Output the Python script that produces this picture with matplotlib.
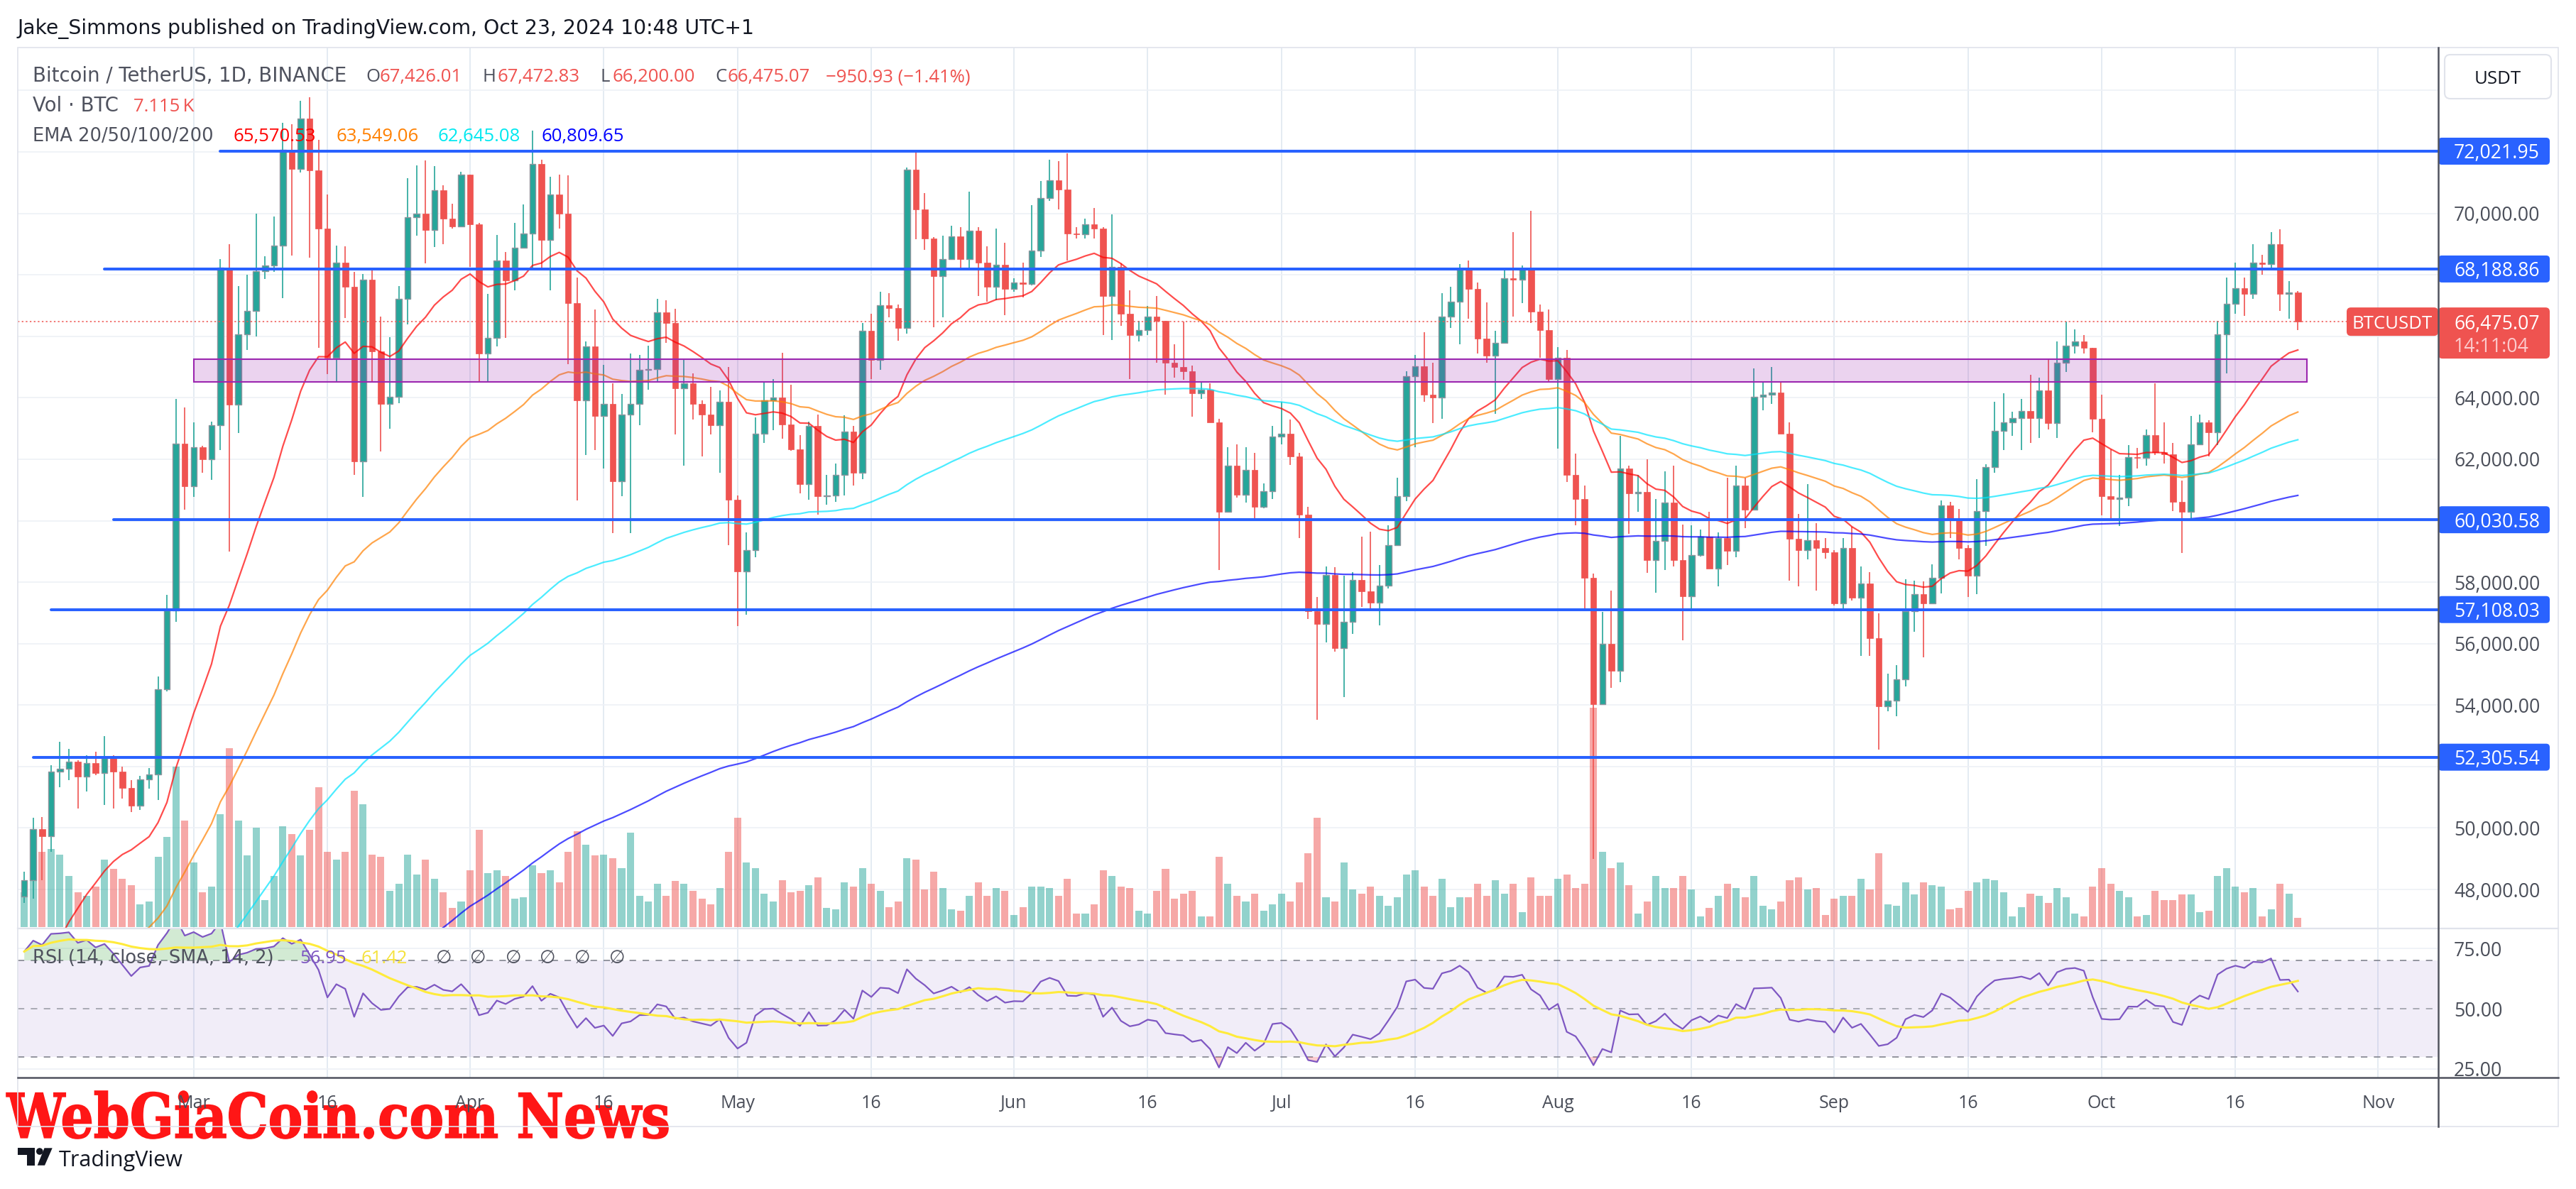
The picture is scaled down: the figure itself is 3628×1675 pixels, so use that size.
import numpy as np
import pandas as pd
import matplotlib
matplotlib.use("Agg")
import matplotlib.pyplot as plt
import matplotlib.transforms as mtransforms
from matplotlib.patches import Rectangle, FancyBboxPatch, PathPatch, Polygon, Ellipse
from matplotlib.textpath import TextPath
from matplotlib.font_manager import FontProperties
from matplotlib.path import Path

plt.rcParams['font.family'] = ['Open Sans', 'DejaVu Sans']

# =====================================================
# Data: BTC/USDT daily candles, Feb 11 - Oct 23 2024
# =====================================================

first_open = 47768

close = [
    # Feb 11-29
    48293, 49958, 49743, 51826, 51938, 52160, 51663, 52122, 51779, 52284,
    51839, 51304, 50731, 51571, 51733, 54522, 57085, 62504, 61130,
    # Mar
    62387, 61987, 63113, 68245, 63776, 66074, 66823, 68124, 68313, 68955,
    72078, 71452, 73072, 71388, 69499, 65300, 68393, 67609, 61937, 67840,
    65501, 63796, 64037, 67211, 69880, 69988, 69455, 70744, 69826, 69565, 71251,
    # Apr
    69652, 65447, 65951, 68470, 67810, 68870, 69340, 71600, 69130, 70610,
    70000, 67080, 63920, 65660, 63400, 63800, 61275, 63450, 63800, 64910,
    64930, 66790, 66440, 64300, 64470, 63800, 63450, 63100, 63880, 60670,
    # May
    58355, 59050, 62840, 63920, 64000, 63140, 62320, 61190, 63080, 60790,
    60820, 61480, 62910, 61570, 66180, 65220, 67000, 66910, 66270, 71430,
    70120, 69170, 67950, 68520, 69250, 68500, 69430, 68400, 67600, 68330, 67530,
    # Jun
    67740, 67710, 68790, 70490, 71080, 70780, 69340, 69310, 69650, 69510,
    67300, 68260, 66730, 66040, 66210, 66650, 66490, 65140, 64990, 64870,
    64140, 64260, 63190, 60300, 61800, 60840, 61660, 60440, 60960, 62740,
    # Jul
    62840, 62090, 60190, 57050, 56650, 58230, 55850, 56720, 58070, 57710,
    57330, 57890, 59210, 60800, 64700, 65030, 64090, 64000, 66650, 67120,
    68160, 67530, 65920, 65360, 65780, 67880, 67840, 68180, 66800, 66190, 64610,
    # Aug
    65300, 61480, 60700, 58150, 54030, 55990, 55120, 61700, 60880, 60930,
    58710, 59350, 60600, 58720, 57540, 58890, 59490, 58450, 59440, 59020,
    61140, 60360, 64040, 64100, 64180, 62830, 59400, 59050, 59360, 59100, 58970,
    # Sep
    57310, 59110, 57490, 57960, 56180, 53960, 54150, 54840, 57050, 57620,
    57310, 58130, 60490, 60010, 59110, 58220, 60310, 61750, 62930, 63190,
    63330, 63570, 63340, 64230, 63170, 65130, 65700, 65830, 65620, 63310,
    # Oct 1-23
    60790, 60700, 60740, 62060, 62050, 62790, 62220, 62160, 60620, 60300,
    62490, 63190, 62870, 66070, 67050, 67570, 67390, 68400, 68360, 68990,
    67380, 67426.01, 66475.07,
]

high = [
    # Feb
    48585, 50334, 50368, 52043, 52816, 52572, 52194, 52357, 52485, 52985,
    52370, 52000, 51550, 51700, 51958, 54938, 57588, 63969, 63676,
    # Mar
    63200, 62433, 63230, 68500, 69000, 67637, 67992, 69990, 68595, 69900,
    72950, 72900, 73650, 73777, 72400, 70620, 68950, 68920, 68100, 68030,
    68240, 66650, 65970, 67622, 71150, 71561, 71730, 71546, 70904, 70312, 71356,
    # Apr
    71251, 69687, 67376, 69300, 68750, 69690, 70300, 72700, 71750, 71180,
    71250, 71230, 67900, 65830, 66870, 65080, 64480, 64125, 65450, 65400,
    65700, 67220, 67170, 66900, 65280, 64790, 63920, 64350, 64230, 65000,
    # May
    60830, 59620, 63360, 64520, 64610, 65460, 64420, 62780, 63220, 63450,
    61480, 61860, 63430, 63080, 66440, 66730, 67450, 67400, 67030, 71480,
    72000, 70660, 69220, 69270, 69600, 69560, 70700, 69560, 68920, 69500, 69040,
    # Jun
    67880, 68400, 70260, 71040, 71740, 71700, 71960, 69550, 69830, 70170,
    69560, 69960, 68380, 67500, 66490, 66990, 67300, 66490, 65740, 66480,
    65040, 64520, 64470, 63310, 62400, 62480, 62390, 62200, 61220, 63080,
    # Jul
    63880, 63290, 62200, 60460, 57520, 58500, 58480, 58220, 58330, 59470,
    59650, 58550, 59850, 61400, 64870, 65390, 66130, 65130, 67400, 67600,
    68350, 68460, 67750, 67110, 66180, 68180, 69390, 68300, 70080, 67030, 66870,
    # Aug
    65650, 65560, 62180, 61140, 58290, 57040, 57730, 62750, 61780, 61480,
    62000, 60700, 61600, 61800, 59870, 59850, 59700, 60280, 59610, 61400,
    61800, 61400, 64960, 64500, 64990, 64500, 63200, 60230, 61200, 59920, 59430,
    # Sep
    59050, 59430, 59810, 58500, 58330, 56990, 55030, 55310, 58090, 58050,
    58020, 58580, 60650, 60610, 60390, 59210, 61350, 61830, 63870, 64140,
    63540, 63970, 64750, 64660, 65230, 65830, 66470, 66230, 66050, 65620,
    # Oct
    64100, 62320, 61490, 62470, 62370, 62960, 64470, 63190, 62530, 61310,
    63400, 63450, 63270, 66490, 67910, 68400, 67910, 68990, 68660, 69390,
    69480, 67790, 67472.83,
]

low = [
    # Feb
    47557, 47710, 48300, 49225, 51321, 51566, 50625, 51200, 51715, 50760,
    50625, 50950, 50521, 50600, 51280, 50901, 54450, 56700, 60364,
    # Mar
    60777, 61565, 61320, 62300, 59005, 62848, 65548, 66000, 67860, 68100,
    67230, 68620, 71330, 68555, 65630, 64780, 64545, 66600, 61500, 60775,
    64529, 62260, 63000, 63821, 66385, 69280, 68381, 68900, 68992, 69513, 69565,
    # Apr
    68262, 64526, 64526, 65670, 65950, 67500, 68870, 68210, 68230, 67500,
    69510, 65100, 60660, 62140, 62300, 61700, 59600, 60790, 59600, 63100,
    64270, 64520, 65780, 62800, 61800, 63300, 62100, 62800, 61550, 59200,
    # May
    56580, 56950, 58820, 62520, 62950, 62670, 62270, 60900, 60670, 60200,
    60530, 60620, 60820, 61140, 61360, 64610, 64900, 66610, 65860, 66090,
    69160, 68820, 66300, 66620, 68490, 68140, 68230, 67300, 67130, 67180, 66690,
    # Jun
    67440, 67270, 67650, 68570, 70400, 70120, 68470, 69170, 69170, 69170,
    66050, 65870, 66330, 64600, 65830, 66040, 65130, 64100, 64660, 64580,
    63380, 63950, 63190, 58400, 60300, 60740, 60600, 60090, 60400, 60700,
    # Jul
    62490, 61820, 59430, 56790, 53520, 56040, 55740, 54260, 56320, 57200,
    57070, 56600, 57800, 59190, 60640, 62390, 63860, 63180, 63310, 66260,
    65730, 66570, 65450, 65140, 63480, 65780, 66630, 67070, 66440, 65300, 64530,
    # Aug
    62350, 61270, 59850, 57110, 49000, 54000, 54570, 54740, 59580, 60290,
    58310, 57650, 58400, 58500, 56100, 57130, 58840, 58450, 57870, 58560,
    58810, 59750, 60350, 63590, 63800, 62830, 58050, 57860, 58750, 57720, 58760,
    # Sep
    57230, 57140, 57400, 55600, 55600, 52550, 53790, 53640, 54600, 56390,
    55550, 57310, 57630, 59430, 58750, 57520, 57620, 59180, 61570, 62300,
    62760, 62300, 62540, 62700, 62970, 62700, 64840, 65430, 65430, 62880,
    # Oct
    60180, 59990, 59830, 60480, 61690, 61800, 62140, 61870, 60320, 58960,
    60060, 62490, 62090, 62460, 64790, 66730, 66660, 67220, 68000, 68160,
    66820, 66560, 66200.00,
]

# volume in thousands of BTC
volume = [
    # Feb
    26, 58, 56, 58, 54, 38, 26, 23, 30, 50, 43, 36, 31, 17, 19, 52, 67, 119, 79,
    # Mar
    48, 26, 30, 84, 133, 79, 53, 74, 20, 38, 75, 69, 53, 72, 104, 56, 50, 56, 101, 91,
    54, 52, 27, 32, 54, 39, 50, 36, 26, 14, 19,
    # Apr
    42, 72, 40, 42, 38, 21, 22, 46, 40, 42, 33, 56, 71, 61, 53, 54, 51, 44, 70, 23,
    19, 32, 23, 34, 32, 27, 21, 17, 29, 56,
    # May
    81, 48, 44, 25, 19, 35, 26, 27, 31, 37, 14, 13, 33, 30, 44, 32, 27, 15, 19, 51,
    50, 28, 41, 29, 13, 12, 23, 33, 23, 29, 27,
    # Jun
    9, 15, 30, 30, 29, 23, 36, 10, 10, 17, 42, 38, 30, 29, 12, 10, 27, 43, 21, 25,
    27, 8, 8, 52, 32, 23, 19, 25, 12, 17,
    # Jul
    25, 19, 33, 55, 81, 22, 19, 48, 28, 25, 30, 23, 16, 22, 39, 42, 30, 23, 36, 15,
    22, 22, 32, 23, 35, 25, 32, 11, 37, 23, 23,
    # Aug
    36, 39, 29, 32, 163, 56, 44, 48, 31, 10, 19, 38, 29, 29, 38, 28, 8, 14, 23, 32,
    29, 22, 38, 16, 13, 19, 35, 37, 28, 29, 9,
    # Sep
    21, 23, 23, 36, 28, 55, 17, 16, 33, 24, 33, 31, 30, 13, 14, 27, 33, 36, 35, 26,
    8, 15, 25, 23, 18, 29, 22, 10, 8, 30,
    # Oct
    44, 32, 27, 22, 8, 9, 27, 20, 20, 24, 24, 11, 12, 38, 44, 30, 26, 29, 8, 13,
    32, 25, 7.115,
]

# horizontal ray lines drawn on the chart
line_levels = [72021.95, 68188.86, 60030.58, 57108.03, 52305.54]
line_starts = ["2024-03-04", "2024-02-20", "2024-02-21", "2024-02-14", "2024-02-12"]

# purple zone
zone_low, zone_high = 64525, 65255
zone_start, zone_end = "2024-03-01", "2024-10-24"

# EMA values on Feb 10 (before the first visible candle)
ema_seeds = {20: 43700, 50: 43000, 100: 40600, 200: 37000}
# Wilder RSI averages on Feb 10
rsi_seed_gain, rsi_seed_loss = 450, 175

tick_dates = ["2024-03-01", "2024-03-16", "2024-04-01", "2024-04-16", "2024-05-01",
              "2024-05-16", "2024-06-01", "2024-06-16", "2024-07-01", "2024-07-16",
              "2024-08-01", "2024-08-16", "2024-09-01", "2024-09-16", "2024-10-01",
              "2024-10-16", "2024-11-01"]
tick_labels = ["Mar", "16", "Apr", "16", "May", "16", "Jun", "16", "Jul", "16",
               "Aug", "16", "Sep", "16", "Oct", "16", "Nov"]

assert len(close) == len(high) == len(low) == len(volume) == 256

# =====================================================
# Indicators
# =====================================================

start = pd.Timestamp("2024-02-11")
def day(s):
    return (pd.Timestamp(s) - start).days

c = np.array(close, dtype=float)
h = np.array(high, dtype=float)
l = np.array(low, dtype=float)
o = np.concatenate([[first_open], c[:-1]])
v = np.array(volume, dtype=float)
x = np.arange(len(c))
up = c >= o


def ema(values, seed, n):
    a = 2 / (n + 1)
    out = []
    e = seed
    for val in values:
        e = e + a * (val - e)
        out.append(e)
    return np.array(out)


def rsi_wilder(values, prev, g, ls, n=14):
    out = []
    for val in values:
        ch = val - prev
        g = (g * (n - 1) + max(ch, 0)) / n
        ls = (ls * (n - 1) + max(-ch, 0)) / n
        out.append(100 - 100 / (1 + g / ls))
        prev = val
    return np.array(out)


emas = {n: ema(c, s, n) for n, s in ema_seeds.items()}
rsi = rsi_wilder(c, first_open, rsi_seed_gain, rsi_seed_loss)
rsi_ma = pd.Series(rsi).rolling(14, min_periods=1).mean().values

# =====================================================
# Figure layout (pixel based)
# =====================================================

W, H = 3628, 1675
fig = plt.figure(figsize=(W / 100, H / 100), dpi=100)
fig.patch.set_facecolor("white")


def rect(lft, top, rgt, bot):
    return [lft / W, 1 - bot / H, (rgt - lft) / W, (bot - top) / H]


PL, PR = 24.5, 3433
ax_vol = fig.add_axes(rect(PL, 67, PR, 1308), zorder=1)
ax = fig.add_axes(rect(PL, 67, PR, 1308), zorder=2, sharex=ax_vol)
ax_rsi = fig.add_axes(rect(PL, 1308, PR, 1518), zorder=2, sharex=ax_vol)
ax_wm = fig.add_axes([0, 0, 1, 1], zorder=1.5)
ax_ov = fig.add_axes([0, 0, 1, 1], zorder=3)
for a in (ax_wm, ax_ov):
    a.set_xlim(0, W)
    a.set_ylim(H, 0)
    a.axis("off")
    a.patch.set_visible(False)
ax.patch.set_visible(False)

for a in (ax_vol, ax, ax_rsi):
    for s in a.spines.values():
        s.set_visible(False)

ax_vol.set_xlim(-0.772, 270.67)
ax.set_ylim(46732, 75393)
ax_vol.set_ylim(-1.05, 653)
ax_rsi.set_ylim(21.47, 83.24)

tick_pos = [day(d) for d in tick_dates]
grid_v = "#e2e9f1"
grid_h = "#eef1f6"
label_col = "#4a4e59"


def ypix(a, val):
    return H - a.transData.transform((0, val))[1]


# =====================================================
# Main pane
# =====================================================

ax_vol.tick_params(left=False, bottom=False, labelleft=False, labelbottom=False)
for t in tick_pos:
    ax_vol.axvline(t, color=grid_v, lw=1.3, zorder=0)
htrans = mtransforms.blended_transform_factory(ax_vol.transAxes, ax.transData)
price_ticks = list(range(48000, 76000, 2000))
for p in price_ticks:
    ax_vol.plot([0, 1], [p, p], transform=htrans, color=grid_h, lw=1.2, zorder=0)

ax_vol.bar(x, v, width=0.8, color=np.where(up, "#26a69a", "#ef5350"), alpha=0.5, lw=0, zorder=2)

# price labels that are not hidden behind the axis boxes
box_ys = [ypix(ax, lvl) for lvl in line_levels]
last_y = ypix(ax, c[-1])


def label_visible(p):
    yp = ypix(ax, p)
    if yp < 147:
        return False
    if last_y - 28 < yp < last_y + 60:
        return False
    return all(abs(yp - b) > 27 for b in box_ys)


ax.tick_params(axis="x", bottom=False, labelbottom=False)
ax.yaxis.tick_right()
ax.set_yticks(price_ticks)
ax.set_yticklabels([f"{p:,.2f}" if label_visible(p) else "" for p in price_ticks])
ax.tick_params(axis="y", length=0, pad=16.6, labelsize=19.2, labelcolor=label_col)

# candles
body_lo = np.minimum(o, c)
body_h = np.maximum(np.abs(c - o), 25)
ax.vlines(x[up], l[up], h[up], color="#26a69a", lw=1.2, zorder=3)
ax.vlines(x[~up], l[~up], h[~up], color="#ef5350", lw=1.2, zorder=3)
ax.bar(x[up], body_h[up], bottom=body_lo[up], width=0.68, color="#26a69a",
       edgecolor="#8f959e", linewidth=1.0, zorder=4)
ax.bar(x[~up], body_h[~up], bottom=body_lo[~up], width=0.68, color="#ef5350",
       edgecolor="#ef5350", linewidth=0.5, zorder=4)

# EMAs
ema_colors = {20: "#ff0000", 50: "#ff8000", 100: "#00e5ff", 200: "#0000ff"}
for n, vals in emas.items():
    ax.plot(x, vals, color=ema_colors[n], alpha=0.7, lw=1.6, zorder=5)

# zone
zx0, zx1 = day(zone_start), day(zone_end)
ax.add_patch(Rectangle((zx0, zone_low), zx1 - zx0, zone_high - zone_low,
                       facecolor=(0.612, 0.153, 0.690, 0.2), edgecolor="#9c27b0",
                       lw=1.5, zorder=6))

# ray lines
for lvl, s in zip(line_levels, line_starts):
    ax.plot([day(s), 270.67], [lvl, lvl], color="#2962ff", lw=2.9,
            solid_capstyle="round", zorder=6, clip_on=False)

# last price line
ax.axhline(c[-1], color="#ef5350", lw=1.1, ls=(0, (1.5, 2.2)), zorder=5)

# =====================================================
# RSI pane
# =====================================================

ax_rsi.set_facecolor("white")
for t in tick_pos:
    ax_rsi.axvline(t, color=grid_v, lw=1.3, zorder=0)
for lv in (25, 75):
    ax_rsi.axhline(lv, color=grid_h, lw=1.2, zorder=0)
ax_rsi.axhspan(30, 70, color="#7e57c2", alpha=0.1, lw=0, zorder=1)
for lv, col in ((70, "#787b86"), (50, "#9598a1"), (30, "#787b86")):
    ax_rsi.axhline(lv, color=col, lw=1.1, ls=(0, (6, 6)), zorder=2)
ax_rsi.fill_between(x, rsi, 70, where=rsi > 70, interpolate=True,
                    color="#4caf50", alpha=0.25, lw=0, zorder=2)
ax_rsi.fill_between(x, rsi, 30, where=rsi < 30, interpolate=True,
                    color="#f23645", alpha=0.25, lw=0, zorder=2)
ax_rsi.plot(x, rsi, color="#7e57c2", lw=1.6, zorder=3)
ax_rsi.plot(x, rsi_ma, color="#ffeb3b", lw=2.2, zorder=4)

ax_rsi.set_xticks(tick_pos)
ax_rsi.set_xticklabels(tick_labels)
ax_rsi.tick_params(axis="x", length=0, pad=17, labelsize=18, labelcolor=label_col)
ax_rsi.yaxis.tick_right()
ax_rsi.set_yticks([25, 50, 75])
ax_rsi.set_yticklabels(["25.00", "50.00", "75.00"])
ax_rsi.tick_params(axis="y", length=0, pad=16.6, labelsize=19.2, labelcolor=label_col)

# =====================================================
# Frame lines
# =====================================================

ax_ov.add_patch(Rectangle((PL, 67), 3603 - PL, 1587 - 67, fill=False,
                          edgecolor="#e0e3eb", lw=1.2))
ax_ov.plot([PL, 3603], [1308, 1308], color="#e0e3eb", lw=1.6)
ax_ov.plot([PL, 3603], [1518, 1518], color="#50535e", lw=1.8)
ax_ov.plot([3434, 3434], [67, 1587], color="#50535e", lw=1.8)

# =====================================================
# Texts
# =====================================================

fs = 18.5
fs_wide = 19.8
gray = "#4f525e"
red = "#ef5350"
wide = ["DejaVu Sans"]

ax_ov.text(PL, 47.7, "Jake_Simmons published on TradingView.com, Oct 23, 2024 10:48 UTC+1",
           fontsize=20.3, color="#131722", va="baseline", ha="left", family=wide)

ax_ov.text(45.6, 115, "Bitcoin / TetherUS, 1D, BINANCE", fontsize=fs_wide, color=gray,
           va="baseline", family=wide)
for letter, lx, val, vx in (("O", 515, "67,426.01", 534.5), ("H", 680, "67,472.83", 700),
                            ("L", 845, "66,200.00", 862), ("C", 1007, "66,475.07", 1025)):
    ax_ov.text(lx, 115, letter, fontsize=fs, color=gray, va="baseline")
    ax_ov.text(vx, 115, val, fontsize=fs, color=red, va="baseline")
ax_ov.text(1163, 115, "\u2212950.93 (\u22121.41%)", fontsize=fs, color=red, va="baseline")

ax_ov.text(45.6, 156.7, "Vol \u00b7 BTC", fontsize=fs_wide, color=gray, va="baseline", family=wide)
ax_ov.text(188, 156.7, "7.115\u2009K", fontsize=fs, color=red, va="baseline")

ax_ov.text(45.6, 199, "EMA 20/50/100/200", fontsize=fs, color=gray, va="baseline", family=wide)
for val, vx, col in (("65,570.53", 328, "#ff0000"), ("63,549.06", 473.5, "#ff8000"),
                     ("62,645.08", 617, "#00e8f0"), ("60,809.65", 763, "#0000ff")):
    ax_ov.text(vx, 199, val, fontsize=fs, color=col, va="baseline")

ax_ov.text(46, 1356.7, "RSI (14, close, SMA, 14, 2)", fontsize=fs, color=gray,
           va="baseline", family=wide)
ax_ov.text(422, 1356.7, "56.95", fontsize=fs, color="#7e57c2", va="baseline")
ax_ov.text(509, 1356.7, "61.42", fontsize=fs, color="#f5e23c", va="baseline")
for ex in (614, 662, 712, 760, 809, 858):
    ax_ov.text(ex, 1356.7, "\u2205", fontsize=fs, color=gray, va="baseline", family=wide)

# right axis boxes
for lvl, yy in zip(line_levels, box_ys):
    ax_ov.add_patch(FancyBboxPatch((3434, yy - 19), 157, 38,
                                   boxstyle="round,pad=0,rounding_size=5",
                                   fc="#2962ff", ec="none"))
    ax_ov.text(3456, yy, f"{lvl:,.2f}", fontsize=19.2, color="white",
               ha="left", va="center_baseline")

ax_ov.add_patch(FancyBboxPatch((3434, last_y - 20), 157, 72,
                               boxstyle="round,pad=0,rounding_size=6",
                               fc="#ef5350", ec="none"))
ax_ov.text(3456, last_y, f"{c[-1]:,.2f}", fontsize=19.2, color="white",
           ha="left", va="center_baseline")
ax_ov.text(3456, last_y + 32, "14:11:04", fontsize=19.2, color="#fccbcd",
           ha="left", va="center_baseline")
ax_ov.add_patch(FancyBboxPatch((3305, last_y - 20), 129, 40,
                               boxstyle="round,pad=0,rounding_size=6",
                               fc="#ef5350", ec="none"))
ax_ov.text(3369, last_y, "BTCUSDT", fontsize=18.5, color="white",
           ha="center", va="center_baseline")

ax_ov.add_patch(FancyBboxPatch((3443, 77), 150, 62,
                               boxstyle="round,pad=0,rounding_size=8",
                               fc="white", ec="#e0e3eb", lw=1.5))
ax_ov.text(3518, 108, "USDT", fontsize=18.5, color="#131722",
           ha="center", va="center_baseline")

# =====================================================
# Watermark and logo
# =====================================================

tp = TextPath((0, 0), "WebGiaCoin.com News", size=100,
              prop=FontProperties(family="DejaVu Serif", weight="bold"))
ext = tp.get_extents()
verts = tp.vertices.copy()
verts[:, 0] = 9 + (verts[:, 0] - ext.x0) / (ext.x1 - ext.x0) * 932
verts[:, 1] = 1604 - (verts[:, 1] - ext.y0) / (ext.y1 - ext.y0) * 67
ax_wm.add_patch(PathPatch(Path(verts, tp.codes), fc="#ff1616", ec="#ff1616", lw=1.2))

logo = "#131722"
ax_wm.add_patch(Rectangle((25.4, 1617.3), 23.7, 9.4, fc=logo, ec="none"))
ax_wm.add_patch(Rectangle((37.9, 1617.3), 11.2, 24.4, fc=logo, ec="none"))
ax_wm.add_patch(Ellipse((55.8, 1622), 9.6, 9.6, fc=logo, ec="none"))
ax_wm.add_patch(Polygon([(62.5, 1617.3), (73.7, 1617.3), (63, 1641.7), (52.7, 1641.7)],
                        closed=True, fc=logo, ec="none"))
ax_wm.text(82.6, 1643, "TradingView", fontsize=22, color=logo, va="baseline", ha="left")

fig.savefig("out.png", dpi=100)
